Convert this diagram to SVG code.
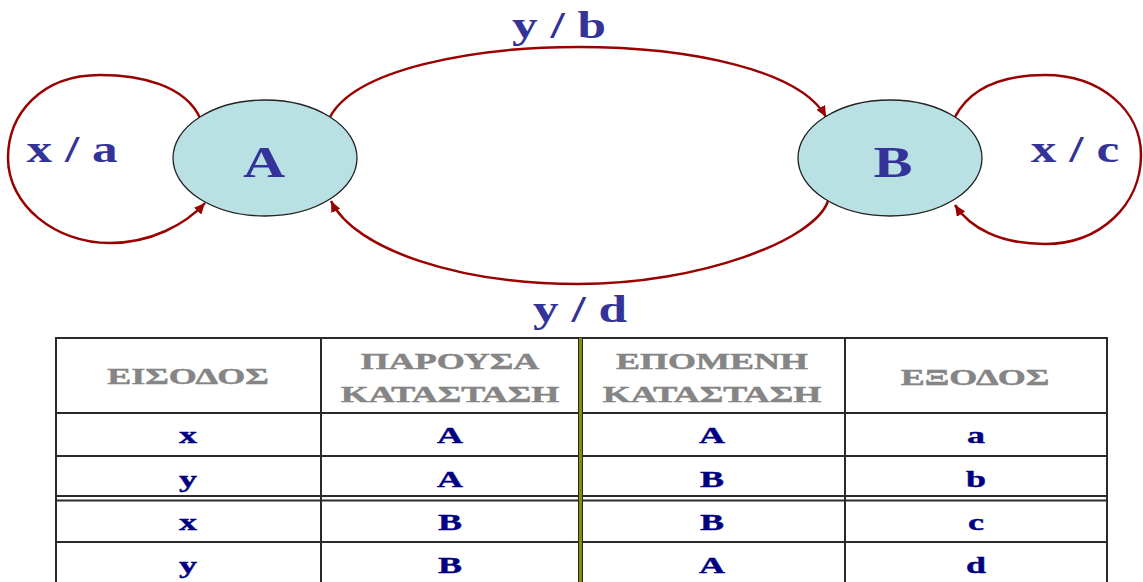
<svg xmlns="http://www.w3.org/2000/svg" width="1143" height="582" viewBox="0 0 1143 582">
<style>
.node{fill:#b9e0e3;stroke:#222;stroke-width:1.3}
.nl{font-family:"Liberation Serif",serif;font-weight:bold;font-size:45px;fill:#333399;text-anchor:middle}
.el{font-family:"Liberation Serif",serif;font-weight:bold;font-size:38px;fill:#333399;text-anchor:middle}
.edge{fill:none;stroke:#990000;stroke-width:2.5}
.tl{stroke:#2a2a2a;stroke-width:2;fill:none}
.th{font-family:"Liberation Serif","DejaVu Serif",serif;font-weight:bold;font-size:24px;fill:#858585;stroke:#858585;stroke-width:0.5;text-anchor:middle}
.td{font-family:"Liberation Serif",serif;font-weight:bold;font-size:24px;fill:#000080;stroke:#000080;stroke-width:0.4;text-anchor:middle}
</style>
<defs>
<marker id="arr" markerUnits="userSpaceOnUse" markerWidth="12" markerHeight="10" refX="11" refY="5" orient="auto">
<path d="M0,0 L11,5 L0,10 z" fill="#990000"/>
</marker>
</defs>
<rect x="0" y="0" width="1143" height="582" fill="#ffffff"/>
<g id="connectors">
<path class="edge" d="M200,118 C185,85 140,75 100,75 C40,75 8,115 8,158 C8,205 55,243 110,243 C150,243 185,225 205,203" marker-end="url(#arr)"/>
<path class="edge" d="M955,117 C970,88 1000,75 1045,75 C1100,75 1141,110 1141,155 C1141,205 1100,244 1045,244 C1000,244 970,228 955,205" marker-end="url(#arr)"/>
<path class="edge" d="M330,117 C355,70 470,47 578,47 C690,47 800,70 826,117" marker-end="url(#arr)"/>
<path class="edge" d="M828,201 C815,240 700,284 578,284 C460,284 355,250 331,201" marker-end="url(#arr)"/>
<text class="el" transform="translate(72,162) scale(1.35,1)">x / a</text>
<text class="el" transform="translate(1075,162) scale(1.35,1)">x / c</text>
<text class="el" transform="translate(559,38) scale(1.35,1)">y / b</text>
<text class="el" transform="translate(580,322) scale(1.35,1)">y / d</text>
</g>
<g id="nodeA">
<ellipse class="node" cx="265" cy="158" rx="92" ry="58"/>
<text class="nl" transform="translate(264,177) scale(1.3,1)">A</text>
</g>
<g id="nodeB">
<ellipse class="node" cx="890" cy="158" rx="92" ry="58"/>
<text class="nl" transform="translate(893,177) scale(1.3,1)">B</text>
</g>
<g id="table">
<rect class="tl" x="56" y="338" width="1051" height="260"/>
<line class="tl" x1="56" y1="413" x2="1107" y2="413"/>
<line class="tl" x1="56" y1="456" x2="1107" y2="456"/>
<line class="tl" x1="56" y1="496" x2="1107" y2="496"/>
<line class="tl" x1="56" y1="500.5" x2="1107" y2="500.5"/>
<line class="tl" x1="56" y1="542" x2="1107" y2="542"/>
<line class="tl" x1="321" y1="338" x2="321" y2="582"/>
<line class="tl" x1="845" y1="338" x2="845" y2="582"/>
<line x1="580.5" y1="338" x2="580.5" y2="582" stroke="#2a2a00" stroke-width="5"/>
<line x1="580.5" y1="338" x2="580.5" y2="582" stroke="#8c8c00" stroke-width="3"/>
<text class="th" transform="translate(188,384) scale(1.5,1)">ΕΙΣΟΔΟΣ</text>
<text class="th" transform="translate(450,369) scale(1.5,1)">ΠΑΡΟΥΣΑ</text>
<text class="th" transform="translate(450,402) scale(1.5,1)">ΚΑΤΑΣΤΑΣΗ</text>
<text class="th" transform="translate(712,369) scale(1.5,1)">ΕΠΟΜΕΝΗ</text>
<text class="th" transform="translate(712,402) scale(1.5,1)">ΚΑΤΑΣΤΑΣΗ</text>
<text class="th" transform="translate(975,385) scale(1.5,1)">ΕΞΟΔΟΣ</text>
<text class="td" transform="translate(188,443) scale(1.5,1)">x</text>
<text class="td" transform="translate(450,443) scale(1.5,1)">A</text>
<text class="td" transform="translate(712,443) scale(1.5,1)">A</text>
<text class="td" transform="translate(976,443) scale(1.5,1)">a</text>
<text class="td" transform="translate(188,487) scale(1.5,1)">y</text>
<text class="td" transform="translate(450,487) scale(1.5,1)">A</text>
<text class="td" transform="translate(712,487) scale(1.5,1)">B</text>
<text class="td" transform="translate(976,487) scale(1.5,1)">b</text>
<text class="td" transform="translate(188,530) scale(1.5,1)">x</text>
<text class="td" transform="translate(450,530) scale(1.5,1)">B</text>
<text class="td" transform="translate(712,530) scale(1.5,1)">B</text>
<text class="td" transform="translate(976,530) scale(1.5,1)">c</text>
<text class="td" transform="translate(188,573) scale(1.5,1)">y</text>
<text class="td" transform="translate(450,573) scale(1.5,1)">B</text>
<text class="td" transform="translate(712,573) scale(1.5,1)">A</text>
<text class="td" transform="translate(976,573) scale(1.5,1)">d</text>
</g>
</svg>
